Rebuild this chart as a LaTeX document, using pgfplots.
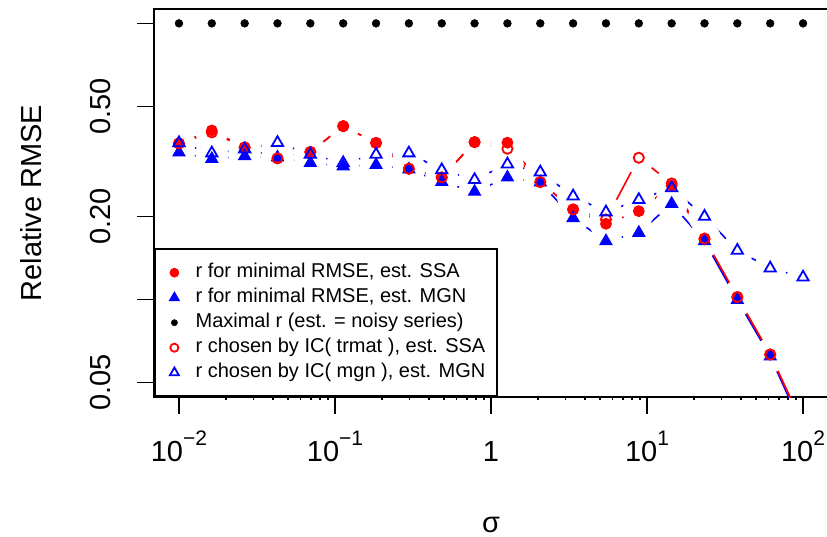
\documentclass[border=0pt]{standalone}
\usepackage{fontspec}
\setmainfont{Liberation Sans}
\usepackage{pgfplots}
\usepackage{pgfplotstable}
\pgfplotsset{compat=1.18}

\pgfplotstableread{
x ssa mgn maxr icssa icmgn
0.01 0.3675 0.3408 1 0.3675 0.3690
0.0162378 0.4095 0.3229 1 0.4028 0.3389
0.0263665 0.3554 0.3305 1 0.3554 0.3504
0.0428133 0.3245 0.3270 1 0.3245 0.3697
0.0695193 0.3422 0.3123 1 0.3422 0.3352
0.112884 0.4244 0.3037 1 0.4244 0.3123
0.183298 0.3690 0.3071 1 0.3690 0.3352
0.297635 0.2975 0.2958 1 0.2975 0.3389
0.483293 0.2767 0.2664 1 0.2767 0.2945
0.784760 0.3715 0.2456 1 0.3715 0.2714
1.27427 0.3697 0.2767 1 0.3516 0.3091
2.06914 0.2661 0.2654 1 0.2661 0.2891
3.35982 0.2119 0.1973 1 0.2119 0.2367
5.45559 0.1880 0.1626 1 0.1949 0.2072
8.85867 0.2089 0.1744 1 0.3261 0.2297
14.3845 0.2588 0.2221 1 0.2632 0.2535
23.3572 0.1650 0.1626 1 0.1663 0.1998
37.9269 0.1017 0.0996 1 0.1021 0.1505
61.5848 0.0632 0.0622 1 0.0632 0.1298
100 0.0350 0.0340 1 0.0350 0.1204
}\data

\newcommand{\tp}[1]{10\raisebox{16pt}{\fontsize{21}{21}\selectfont #1}}

\begin{document}
\begin{tikzpicture}
\useasboundingbox (0,0) rectangle (827pt,537pt);
\begin{axis}[
  at={(154pt,140pt)}, anchor=south west,
  scale only axis, width=674pt, height=388pt,
  xmode=log, ymode=log,
  xmin=0.006918, xmax=144.54,
  ymin=0.04434, ymax=1.1274,
  axis line style={line width=1.6pt},
  tick style={black, line width=1.6pt},
  tick align=outside, major tick length=17pt,
  tick pos=left,
  xtick={0.01,0.1,1,10,100},
  xticklabels={\tp{−2},\tp{−1},1,\tp{1},\tp{2}},
  ytick={0.05,0.1,0.2,0.5,1},
  yticklabels={0.05,,0.20,0.50,},
  minor xtick={}, minor ytick={},
  ticklabel style={font=\fontsize{29}{34}\selectfont},
  xticklabel style={anchor=base, yshift=-48pt},
  yticklabel style={xshift=-27pt, rotate=90, anchor=base},
  xlabel={σ}, ylabel={Relative RMSE},
  label style={font=\fontsize{29}{34}\selectfont},
  xlabel style={at={(axis description cs:0.5,-0.348)}, anchor=base},
  ylabel style={at={(axis description cs:-0.1662,0.5)}, anchor=base},
  clip marker paths=true,
  legend style={at={(0,0)}, anchor=south west, draw=black, line width=1.6pt, fill=white,
    inner xsep=11.7pt, inner ysep=14pt, row sep=6pt, column sep=13.3pt,
    font=\fontsize{20}{24}\selectfont,
    nodes={inner sep=0pt, text height=14.5pt, text depth=4.5pt}},
  legend cell align=left,
  legend image code/.code={\path (-7pt,0pt) (7pt,0pt);
    \draw[#1, every mark/.append style={scale=0.8}] plot coordinates {(0pt,0pt)};},
]
% connecting lines
\addplot[red, line width=1.6pt, no marks, forget plot] table[x=x,y=ssa]{\data};
\addplot[blue, line width=1.6pt, no marks, forget plot] table[x=x,y=mgn]{\data};
\addplot[red, line width=1.6pt, no marks, forget plot] table[x=x,y=icssa]{\data};
\addplot[blue, line width=1.6pt, no marks, forget plot] table[x=x,y=icmgn]{\data};
% gaps around points (type b)
\addplot[only marks, mark=*, mark size=16pt, white, forget plot] table[x=x,y=ssa]{\data};
\addplot[only marks, mark=*, mark size=16pt, white, forget plot] table[x=x,y=mgn]{\data};
\addplot[only marks, mark=*, mark size=16pt, white, forget plot] table[x=x,y=icssa]{\data};
\addplot[only marks, mark=*, mark size=16pt, white, forget plot] table[x=x,y=icmgn]{\data};
% markers
\addplot[only marks, mark=*, draw=red, fill=red, line width=1pt, mark size=5.4pt] table[x=x,y=ssa]{\data};
\addlegendentry{r for minimal RMSE, est. SSA}
\addplot[only marks, mark=triangle*, draw=blue, fill=blue, line width=1pt, mark size=7pt] table[x=x,y=mgn]{\data};
\addlegendentry{r for minimal RMSE, est. MGN}
\addplot[only marks, mark=*, draw=black, fill=black, line width=0.5pt, mark size=3.9pt] table[x=x,y=maxr]{\data};
\addlegendentry{Maximal r (est. = noisy series)}
\addplot[only marks, mark=o, draw=red, line width=1.8pt, mark size=5.1pt] table[x=x,y=icssa]{\data};
\addlegendentry{r chosen by IC( trmat ), est. SSA}
\addplot[only marks, mark=triangle, draw=blue, line width=1.8pt, mark size=6.5pt] table[x=x,y=icmgn]{\data};
\addlegendentry{r chosen by IC( mgn ), est. MGN}
\end{axis}
\end{tikzpicture}
\end{document}
